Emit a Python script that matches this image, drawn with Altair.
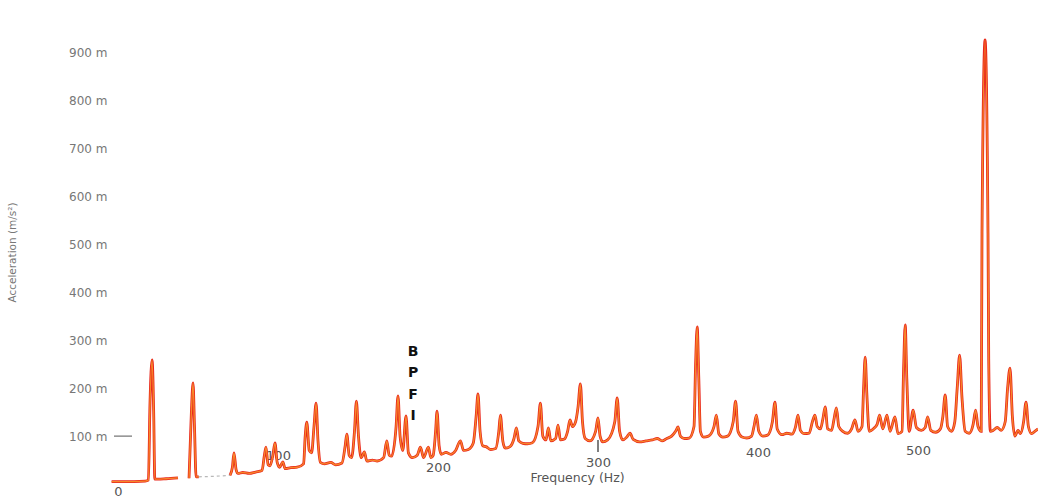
import altair as alt
import pandas as pd

# Vibration spectrum: frequency (Hz) and acceleration (milli m/s^2)
freq_a = [-4, 10, 17, 19, 20, 21.3, 22.3, 23, 25, 30, 37.5]
acc_a = [5, 5, 6, 8, 169, 259, 150, 10, 10, 11, 13]

freq_b = [44.4, 45.8, 46.9, 47.8, 48.8, 50.5]
acc_b = [12, 144, 211, 120, 15, 15]

# sensor dropout stretch
freq_gap = [50.5, 60, 70]
acc_gap = [15, 16, 18]

freq_c = [
    70, 71.5, 72.5, 73.8, 75, 78, 82, 86, 90, 91.5, 92.5, 93.8, 95, 96.8, 98.1, 99.5,
    101, 103, 104.5, 108, 112, 116, 117, 118, 119.5, 121, 122.5, 123.8, 125, 126.5,
    129, 133, 136, 140, 142, 143, 144.5, 146, 147.8, 149, 150.3, 152, 154, 155.5,
    159, 162, 166, 168, 169.5, 171, 173.8, 175, 176.3, 178, 180, 181.5, 184, 187,
    189, 191, 194, 195.5, 197, 198.5, 199.4, 200.7, 202, 205, 208, 211, 214, 216,
    219, 222, 223.8, 225, 226.3, 228, 230, 233, 236, 238, 239, 240.5, 242, 245,
    247.5, 249, 250.5, 253, 256, 259, 262.5, 264, 265.5, 267.5, 269, 270.5, 273.5,
    275, 276.5, 279, 281, 282.5, 284, 286, 287.5, 289, 290.3, 292, 295, 298.5, 300,
    301.3, 303, 306, 310.5, 312, 313.5, 315.5, 318, 320, 322, 326, 330, 334, 337,
    340, 343, 346, 348.5, 350, 351.5, 354, 357, 360, 361, 362, 363, 364, 366, 369,
    372.5, 374, 375.5, 378, 381, 384.5, 386, 387.5, 390, 393, 396, 397.5, 399,
    400.5, 403, 406, 409, 410.6, 412, 415, 418, 421, 423.5, 425, 426.5, 429, 432,
    434, 435.6, 437, 439, 440.5, 442, 443.5, 446, 447.5, 449, 450.5, 453, 456,
    458.5, 460.6, 462.5, 465, 466, 467, 468, 469.5, 472, 474.5, 476, 478, 480.6,
    482.5, 485.6, 487.5, 490, 491, 492, 493, 494.5, 497, 499, 502, 504.5, 506, 508,
    511, 514, 515.5, 517, 518.5, 521, 523, 524.5, 526, 527.5, 529.5, 532, 534.5,
    536, 537.5, 539.5, 540, 541.9, 543.75, 544.2, 545.2, 547, 549.5, 552, 554.5,
    556, 557.5, 559, 560.5, 562.5, 564, 566, 567.5, 569, 571, 573, 575,
]
acc_c = [
    18, 35, 65, 30, 22, 24, 22, 25, 28, 60, 77, 40, 38, 60, 86, 45,
    35, 46, 32, 34, 35, 42, 100, 129, 70, 65, 120, 169, 90, 45,
    42, 45, 40, 44, 80, 104, 60, 55, 110, 173, 100, 55, 67, 48,
    50, 48, 55, 90, 60, 58, 120, 184, 100, 70, 142, 65, 55, 60,
    77, 55, 77, 55, 60, 110, 152, 80, 62, 66, 62, 70, 90, 70,
    72, 85, 140, 188, 110, 80, 78, 72, 74, 110, 144, 90, 75, 78,
    95, 117, 90, 85, 84, 86, 120, 169, 100, 92, 117, 90, 95,
    123, 92, 94, 110, 134, 120, 130, 160, 209, 130, 95, 90, 110, 138,
    100, 88, 92, 130, 180, 110, 92, 98, 106, 93, 88, 90, 92, 95,
    90, 95, 100, 110, 119, 100, 95, 96, 120, 250, 328, 220, 110, 98, 100,
    120, 144, 105, 98, 100, 130, 173, 110, 98, 96, 100, 120, 144,
    110, 100, 102, 130, 171, 115, 103, 106, 104, 120, 144, 112, 105, 106,
    130, 144, 120, 115, 135, 161, 115, 112, 135, 159, 120, 110, 106,
    115, 134, 110, 120, 200, 265, 190, 110, 115, 125, 144, 115, 144,
    110, 140, 105, 110, 240, 332, 220, 110, 154, 118, 112, 118, 140, 112,
    108, 115, 140, 186, 120, 110, 130, 200, 269, 180, 110, 106, 125,
    154, 120, 110, 524, 927, 524, 260, 110, 112, 118, 112, 130,
    200, 242, 140, 100, 112, 105, 130, 171, 120, 105, 110, 115,
]

y_ticks = [100, 200, 300, 400, 500, 600, 700, 800, 900]
x_ticks = [0, 100, 200, 300, 400, 500]

spectrum = pd.concat([
    pd.DataFrame({"freq": freq_a, "acc": acc_a, "part": "a"}),
    pd.DataFrame({"freq": freq_b, "acc": acc_b, "part": "b"}),
    pd.DataFrame({"freq": freq_c, "acc": acc_c, "part": "c"}),
])
gap = pd.DataFrame({"freq": freq_gap, "acc": acc_gap})

x_scale = alt.Scale(domain=[-5, 575], nice=False, zero=False)
y_scale = alt.Scale(domain=[0, 950], nice=False)

# individual vertical placement of each frequency label
label_pad = {
    "condition": [
        {"test": "datum.value == 0", "value": 7},
        {"test": "datum.value == 100", "value": -29},
        {"test": "datum.value == 200", "value": -17},
        {"test": "datum.value == 300", "value": -22},
        {"test": "datum.value == 400", "value": -32},
    ],
    "value": -34,
}

x_axis = alt.Axis(
    values=x_ticks, ticks=False, tickSize=0, domain=False, grid=False,
    labelPadding=label_pad, labelBaseline="middle", labelFont="DejaVu Sans",
    labelFontSize=13, labelColor="#555555", labelFlush=False,
    title="Frequency (Hz)", titleFont="DejaVu Sans", titleFontSize=12.5,
    titleFontWeight="normal", titleColor="#555555", titleX=467, titleY=-7,
    titleBaseline="middle", titleAnchor="middle",
)
y_axis = alt.Axis(
    values=y_ticks, ticks=False, domain=False, grid=False,
    labelExpr="datum.value + ' m'", labelPadding=3, labelFont="DejaVu Sans",
    labelFontSize=12, labelColor="#777777",
    title="Acceleration (m/s²)", titleFont="DejaVu Sans", titleFontSize=10.5,
    titleFontWeight="normal", titleColor="#777777", titleX=-98, titleY=223,
    titleAngle=-90, titleBaseline="middle", titleAlign="center",
)

base = alt.Chart(spectrum)

under = base.mark_line(
    color="#e8261c", strokeWidth=2.8, clip=True, interpolate="monotone"
).encode(
    x=alt.X("freq:Q", scale=x_scale, axis=x_axis),
    y=alt.Y("acc:Q", scale=y_scale, axis=y_axis),
    detail="part:N",
)
over = base.mark_line(
    color="#f7872a", strokeWidth=1.3, clip=True, interpolate="monotone"
).encode(
    x=alt.X("freq:Q", scale=x_scale),
    y=alt.Y("acc:Q", scale=y_scale),
    detail="part:N",
)
dropout = alt.Chart(gap).mark_line(
    color="#b8b8b8", strokeWidth=1.2, strokeDash=[3, 3]
).encode(
    x=alt.X("freq:Q", scale=x_scale),
    y=alt.Y("acc:Q", scale=y_scale),
)

tick_data = pd.DataFrame({"acc": [100]})
y_tick = alt.Chart(tick_data).mark_rule(color="#555555", strokeWidth=1).encode(
    y=alt.Y("acc:Q", scale=y_scale), x=alt.value(4), x2=alt.value(22)
)
freq_tick = alt.Chart(pd.DataFrame({"freq": [300]})).mark_rule(
    color="#555555", strokeWidth=1.5
).encode(x=alt.X("freq:Q", scale=x_scale), y=alt.value(411), y2=alt.value(423))

bpfi = alt.Chart(pd.DataFrame({"freq": [184.4], "acc": [276], "label": ["B\nP\nF\nI"]})).mark_text(
    font="DejaVu Sans", fontSize=14, fontWeight="bold", color="#111111",
    lineBreak="\n", lineHeight=21.5, baseline="middle", align="center",
).encode(
    x=alt.X("freq:Q", scale=x_scale),
    y=alt.Y("acc:Q", scale=y_scale),
    text="label:N",
)

chart = alt.layer(under, over, dropout, y_tick, freq_tick, bpfi).properties(
    width=928, height=455,
    autosize=alt.AutoSizeParams(type="none"),
    padding={"left": 110, "top": 29, "right": 0, "bottom": 13},
    background="white",
).configure_view(stroke=None)

chart.save("out.html", embed_options={"renderer": "svg", "actions": False})
